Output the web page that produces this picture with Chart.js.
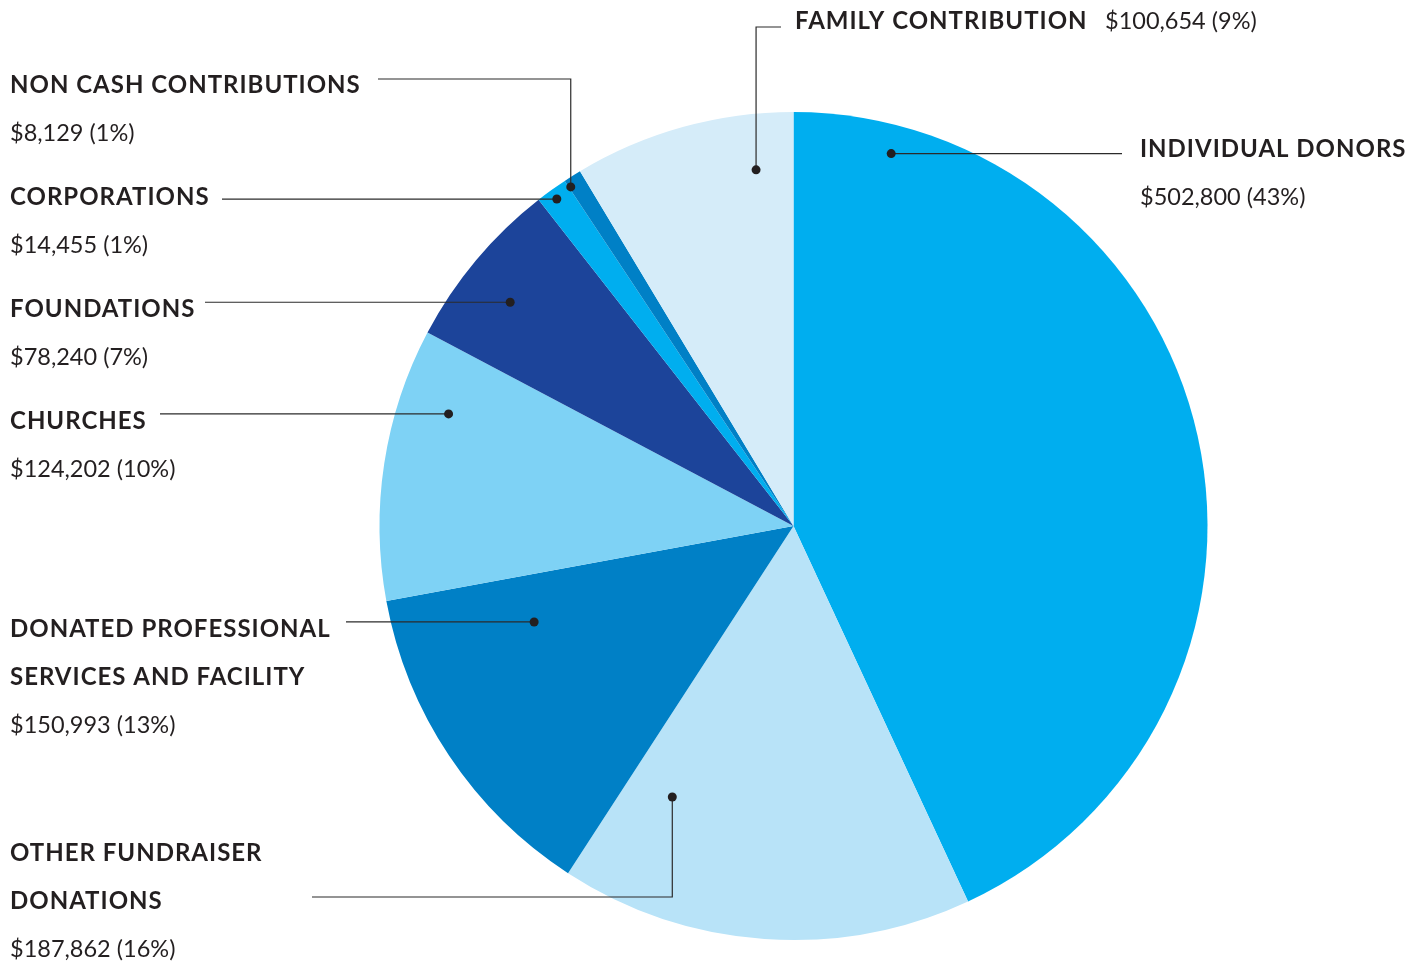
<!DOCTYPE html>
<html>
<head>
<meta charset="utf-8">
<script src="https://cdn.jsdelivr.net/npm/chart.js@4.4.1/dist/chart.umd.min.js"></script>
<style>
  body { margin: 0; background: #fff; }
  #wrap { width: 1406px; height: 961px; }
</style>
</head>
<body>
<div id="wrap"><canvas id="pieChart" width="1406" height="961"></canvas></div>
<script>
// slice data, clockwise from 12 o'clock
const categories = ['INDIVIDUAL DONORS', 'OTHER FUNDRAISER DONATIONS', 'DONATED PROFESSIONAL SERVICES AND FACILITY',
    'CHURCHES', 'FOUNDATIONS', 'CORPORATIONS', 'NON CASH CONTRIBUTIONS', 'FAMILY CONTRIBUTION'];
const amounts = [502800, 187862, 150993, 124202, 78240, 14455, 8129, 100654];
const percents = [43, 16, 13, 10, 7, 1, 1, 9];
const colors = ['#00AEEF', '#B8E3F8', '#0080C6', '#7ED2F5', '#1C449A', '#00AEEF', '#0080C6', '#D5ECF9'];

// label placement: heading lines, text position, marker (angle from top in deg, fraction of radius), leader elbows
const labelLayout = [
    { lines: ['INDIVIDUAL DONORS'], x: 1140, y: 148, valueY: 196, dot: [14.7, 0.93], path: [[1122, 154]] },
    { lines: ['OTHER FUNDRAISER', 'DONATIONS'], x: 10, y: 852, valueY: 948, dot: [204.1, 0.717], path: [[673, 897], [312, 897]] },
    { lines: ['DONATED PROFESSIONAL', 'SERVICES AND FACILITY'], x: 10, y: 628, valueY: 724, dot: [249.7, 0.668], path: [[346, 623]] },
    { lines: ['CHURCHES'], x: 10, y: 420, valueY: 468, dot: [288, 0.876], path: [[160, 415]] },
    { lines: ['FOUNDATIONS'], x: 10, y: 308, valueY: 356, dot: [308.3, 0.872], path: [[205, 303]] },
    { lines: ['CORPORATIONS'], x: 10, y: 196, valueY: 244, dot: [324.1, 0.975], path: [[222, 198]] },
    { lines: ['NON CASH CONTRIBUTIONS'], x: 10, y: 84, valueY: 132, dot: [326.7, 0.98], path: [[571, 79], [378, 79]] },
    { lines: ['FAMILY CONTRIBUTION'], x: 795, y: 20, valueY: null, valueX: 1105, dot: [354, 0.865], path: [[757, 27], [781, 27]] }
];

const fmt = v => '$' + v.toLocaleString('en-US');

const calloutPlugin = {
    id: 'callouts',
    afterDraw(chart) {
        const ctx = chart.ctx;
        const meta = chart.getDatasetMeta(0);
        ctx.save();
        meta.data.forEach((arc, i) => {
            const lay = labelLayout[i];
            const a = lay.dot[0] * Math.PI / 180;
            const R = arc.outerRadius * lay.dot[1];
            const dx = arc.x + R * Math.sin(a);
            const dy = arc.y - R * Math.cos(a);

            // leader line
            ctx.strokeStyle = '#2b2b2b';
            ctx.lineWidth = 1.2;
            ctx.beginPath();
            ctx.moveTo(dx, dy);
            lay.path.forEach((p, k) => {
                // first elbow keeps alignment with marker
                let px = p[0], py = p[1];
                if (k === 0 && lay.path.length > 1) {
                    if (Math.abs(px - dx) < 3) px = dx; else py = dy;
                }
                if (k === 0 && lay.path.length === 1) py = dy;
                ctx.lineTo(px, py);
            });
            ctx.stroke();

            ctx.fillStyle = '#231F20';
            ctx.beginPath();
            ctx.arc(dx, dy, 4.5, 0, Math.PI * 2);
            ctx.fill();

            // text
            ctx.textBaseline = 'alphabetic';
            ctx.textAlign = 'left';
            ctx.font = 'bold 24px Lato';
            ctx.letterSpacing = '1px';
            lay.lines.forEach((t, k) => {
                ctx.fillText(t, lay.x, lay.y + 48 * k + 9);
            });
            ctx.font = '23.5px Lato';
            ctx.letterSpacing = '0px';
            const val = fmt(amounts[i]) + ' (' + percents[i] + '%)';
            if (lay.valueY === null) {
                ctx.fillText(val, lay.valueX, lay.y + 9);
            } else {
                ctx.fillText(val, lay.x, lay.valueY + 9);
            }
        });
        ctx.restore();
    }
};

new Chart(document.getElementById('pieChart'), {
    type: 'pie',
    data: {
        labels: categories,
        datasets: [{
            data: amounts,
            backgroundColor: colors,
            borderWidth: 0
        }]
    },
    options: {
        responsive: false,
        animation: false,
        layout: { padding: { left: 379.5, right: 198.5, top: 112, bottom: 21 } },
        plugins: {
            legend: { display: false },
            tooltip: { enabled: false }
        }
    },
    plugins: [calloutPlugin]
});
</script>
</body>
</html>
